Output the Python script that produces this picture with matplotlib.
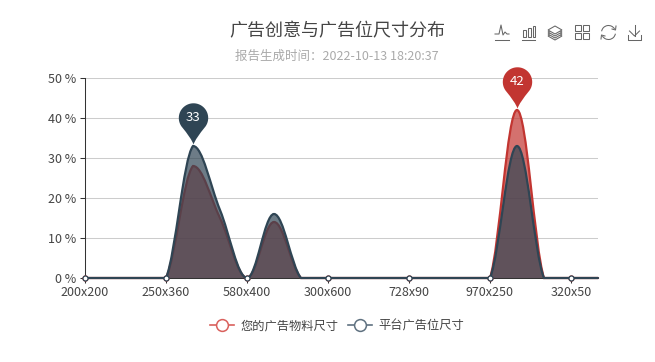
import numpy as np
import matplotlib
matplotlib.use("Agg")
import matplotlib.pyplot as plt
from matplotlib.lines import Line2D
from matplotlib.patches import PathPatch, Rectangle, Arc, Polygon
from matplotlib.path import Path

plt.rcParams['font.family'] = ['Noto Sans CJK SC', 'DejaVu Sans']

# === data ===
# 20 categories, the axis only labels every third one
categories = ["200x200", "", "", "250x360", "", "", "580x400", "", "", "300x600",
              "", "", "728x90", "", "", "970x250", "", "", "320x50", ""]
your_sizes = [0, 0, 0, 0, 28, 15, 0, 14, 0, 0, 0, 0, 0, 0, 0, 0, 42, 0, 0, 0]
platform_sizes = [0, 0, 0, 0, 33, 17, 0, 16, 0, 0, 0, 0, 0, 0, 0, 0, 33, 0, 0, 0]
y_ticks = [0, 10, 20, 30, 40, 50]

title = "广告创意与广告位尺寸分布"
subtitle = "报告生成时间：2022-10-13 18:20:37"
series_names = ["您的广告物料尺寸", "平台广告位尺寸"]

RED = "#c23531"
DARK = "#2f4554"
W, H = 655, 362
X0, X1, Y0, Y1 = 85, 598, 278, 78


def smooth_path(values, smooth=0.36):
    # same idea as the smooth line of echarts, control points stay inside each segment
    n = len(values)
    xs = np.arange(n, dtype=float)
    ys = np.array(values, dtype=float)
    verts = [(xs[0], ys[0])]
    codes = [Path.MOVETO]
    fwd = [None] * n
    back = [None] * n
    for i in range(n):
        a = max(i - 1, 0)
        b = min(i + 1, n - 1)
        vx, vy = xs[b] - xs[a], ys[b] - ys[a]
        r = 0.5
        fy = ys[i] + vy * r * smooth
        by = ys[i] - vy * (1 - r) * smooth
        fwd[i] = (xs[i] + vx * r * smooth, np.clip(fy, min(ys[i], ys[b]), max(ys[i], ys[b])))
        back[i] = (xs[i] - vx * (1 - r) * smooth, np.clip(by, min(ys[i], ys[a]), max(ys[i], ys[a])))
    for i in range(n - 1):
        verts += [fwd[i], back[i + 1], (xs[i + 1], ys[i + 1])]
        codes += [Path.CURVE4] * 3
    return verts, codes


def pin_marker():
    # tip at the origin, circle on top, units are pixels
    r = 14.7
    cy = 28.5
    t = np.radians(np.linspace(-35, 215, 40))
    cx_pts = r * np.cos(t)
    cy_pts = cy + r * np.sin(t)
    verts = list(zip(cx_pts, cy_pts))
    codes = [Path.MOVETO] + [Path.LINETO] * (len(verts) - 1)
    verts += [(-2, 8), (0, 2), (2, 8), (cx_pts[0], cy_pts[0]), (cx_pts[0], cy_pts[0])]
    codes += [Path.CURVE3, Path.CURVE3, Path.CURVE3, Path.CURVE3, Path.CLOSEPOLY]
    return Path(verts, codes)


fig = plt.figure(figsize=(W / 100, H / 100), dpi=100)
ax = fig.add_axes([X0 / W, 1 - Y0 / H, (X1 - X0) / W, (Y0 - Y1) / H])
ax.set_xlim(0, len(categories) - 1)
ax.set_ylim(0, 50)

ax.set_yticks(y_ticks)
ax.set_yticklabels([f"{v} %" for v in y_ticks])
label_idx = [i for i, c in enumerate(categories) if c]
ax.set_xticks(label_idx)
ax.set_xticklabels([categories[i] for i in label_idx])
ax.tick_params(axis="both", length=3.6, width=0.75, color="#333333",
               labelcolor="#444444", labelsize=9, pad=2.5)
ax.grid(axis="y", color="#cccccc", lw=0.75)
ax.set_axisbelow(True)
for s in ["top", "right"]:
    ax.spines[s].set_visible(False)
for s in ["left", "bottom"]:
    ax.spines[s].set_color("#333333")
    ax.spines[s].set_linewidth(0.75)

for vals, color, z in [(your_sizes, RED, 3), (platform_sizes, DARK, 4)]:
    verts, codes = smooth_path(vals)
    area = Path(verts + [(len(vals) - 1, 0), (0, 0), (0, 0)],
                codes + [Path.LINETO, Path.LINETO, Path.CLOSEPOLY])
    ax.add_patch(PathPatch(area, fc=color, ec="none", alpha=0.7, zorder=z))
    ax.add_patch(PathPatch(Path(verts, codes), fc="none", ec=color, lw=1.6, zorder=z + 0.5,
                           clip_on=False, capstyle="round"))
    ax.plot(label_idx, [vals[i] for i in label_idx], ls="none", marker="o", ms=3.6,
            mfc="white", mec=color, mew=0.9, zorder=z + 0.6, clip_on=False)

# max pins
pin = pin_marker()
for vals, color in [(your_sizes, RED), (platform_sizes, DARK)]:
    i = int(np.argmax(vals))
    ax.plot([i], [vals[i]], ls="none", marker=pin, ms=2 * 43.2 * 0.72, mfc=color, mec="none",
            zorder=8, clip_on=False)
    ax.annotate(str(vals[i]), (i, vals[i]), xytext=(0, 28.5 * 0.72), textcoords="offset points",
                ha="center", va="center", color="white", fontsize=9.5, zorder=9)

fig.text(337 / W, 1 - 31 / H, title, ha="center", va="center", fontsize=13, color="#444444")
fig.text(337 / W, 1 - 56 / H, subtitle, ha="center", va="center", fontsize=9, color="#aaaaaa")

handles = [Line2D([], [], color="#d9605c", lw=1.2, marker="o", ms=8.5, mfc="white", mec="#d9605c", mew=1.1),
           Line2D([], [], color="#5f7180", lw=1.2, marker="o", ms=8.5, mfc="white", mec="#5f7180", mew=1.1)]
fig.legend(handles, series_names, loc="center", bbox_to_anchor=(337 / W, 1 - 326 / H), ncols=2,
           frameon=False, fontsize=8.8, labelcolor="#444444", handlelength=2.0,
           handletextpad=0.5, columnspacing=0.8)

# toolbox icons, drawn in pixel coordinates
tb = fig.add_axes([0, 0, 1, 1])
tb.set_xlim(0, W)
tb.set_ylim(H, 0)
tb.axis("off")
tb.patch.set_alpha(0)
GR = "#666666"
LW = 0.75
tb.plot([495, 509], [39.5, 39.5], color=GR, lw=LW)
tb.plot([495, 499, 501, 503, 505, 507, 509], [34, 34, 25, 35, 32, 34, 34], color=GR, lw=LW)
tb.plot([522, 535], [39.5, 39.5], color=GR, lw=LW)
for x, y in [(523, 30), (528, 28), (532.5, 25.5)]:
    tb.add_patch(Rectangle((x, y), 2.6, 37 - y, fc="none", ec=GR, lw=LW))
for k in range(4):
    tb.add_patch(Polygon([(548, 30 + k * 2), (555, 26 + k * 2), (562, 30 + k * 2), (555, 34 + k * 2)],
                         fc="white", ec=GR, lw=LW, zorder=6 - k))
for x, y in [(575, 25), (583, 25), (575, 33), (583, 33)]:
    tb.add_patch(Rectangle((x, y), 6, 6, fc="none", ec=GR, lw=LW))
tb.add_patch(Arc((608.5, 32.5), 14, 14, theta1=190, theta2=330, color=GR, lw=LW))
tb.add_patch(Arc((608.5, 32.5), 14, 14, theta1=10, theta2=150, color=GR, lw=LW))
tb.plot([612, 615.5, 616], [29, 30, 26], color=GR, lw=LW)
tb.plot([601, 601.5, 605], [39, 35, 36], color=GR, lw=LW)
tb.plot([628, 628, 641, 641], [35, 39.5, 39.5, 35], color=GR, lw=LW)
tb.plot([634.5, 634.5], [25, 36], color=GR, lw=LW)
tb.plot([629.5, 634.5, 639.5], [31, 36, 31], color=GR, lw=LW)

fig.savefig("out.png", dpi=100)
plt.close(fig)
